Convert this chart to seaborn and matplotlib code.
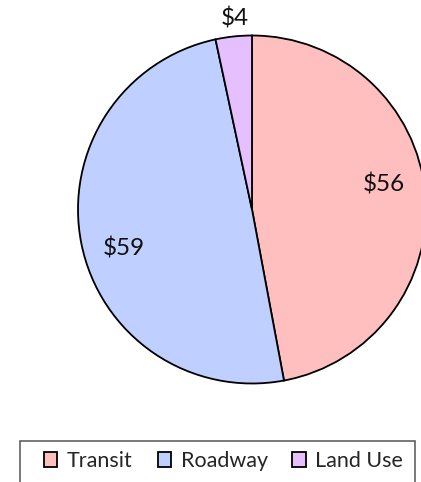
import matplotlib
matplotlib.use("Agg")
import matplotlib.pyplot as plt
from matplotlib.patches import Patch, Rectangle
import numpy as np
import seaborn as sns

# Spending by category ($)
categories = ["Transit", "Roadway", "Land Use"]
values = [56, 59, 4]
value_labels = ["$56", "$59", "$4"]
colors = ["#FFBFBF", "#BFCFFF", "#E6BFFF"]

sns.set_theme(style="white")
plt.rcParams["font.family"] = ["Lato", "DejaVu Sans"]

W, H = 421, 482
fig = plt.figure(figsize=(W / 100, H / 100), dpi=100)

# Pie axes placed in pixel terms: centre (252, 209.5), radius 174
cx, cy, r = 252, 209.5, 174
ax = fig.add_axes([(cx - r) / W, (H - cy - r) / H, 2 * r / W, 2 * r / H])
wedges, _ = ax.pie(
    values,
    colors=colors,
    startangle=90,
    counterclock=False,
    radius=1,
    wedgeprops=dict(edgecolor="black", linewidth=1.3),
)
ax.set_xlim(-1, 1)
ax.set_ylim(-1, 1)
ax.set_aspect("equal")
ax.axis("off")
for w in wedges:
    w.set_clip_on(False)

# Value labels: inside large wedges (nudged a little anticlockwise),
# just outside the small one
total = sum(values)
for w, v, lab in zip(wedges, values, value_labels):
    inside = v / total > 0.1
    ang = (w.theta1 + w.theta2) / 2 + (5.5 if inside else -0.8)
    mid = np.deg2rad(ang)
    dist = 0.77 if inside else 1.10
    ax.text(dist * np.cos(mid), dist * np.sin(mid), lab,
            ha="center", va="center", fontsize=17.5, color="#111111")

# Legend with a boxed frame along the bottom
handles = [Patch(facecolor=c, edgecolor="black", linewidth=1.3) for c in colors]
fig.legend(
    handles, categories,
    loc="center left",
    bbox_to_anchor=(44 / W, (H - 461) / H),
    ncol=3, frameon=False, fontsize=15.5,
    handlelength=0.62, handleheight=0.68, handletextpad=0.45,
    columnspacing=1.15, borderpad=0, borderaxespad=0,
)
fig.patches.append(Rectangle((20 / W, -0.05), (415 - 20) / W, (H - 441) / H + 0.05,
                             transform=fig.transFigure, fill=False,
                             edgecolor="#555555", linewidth=1.1))

fig.savefig("out.png", dpi=100)
